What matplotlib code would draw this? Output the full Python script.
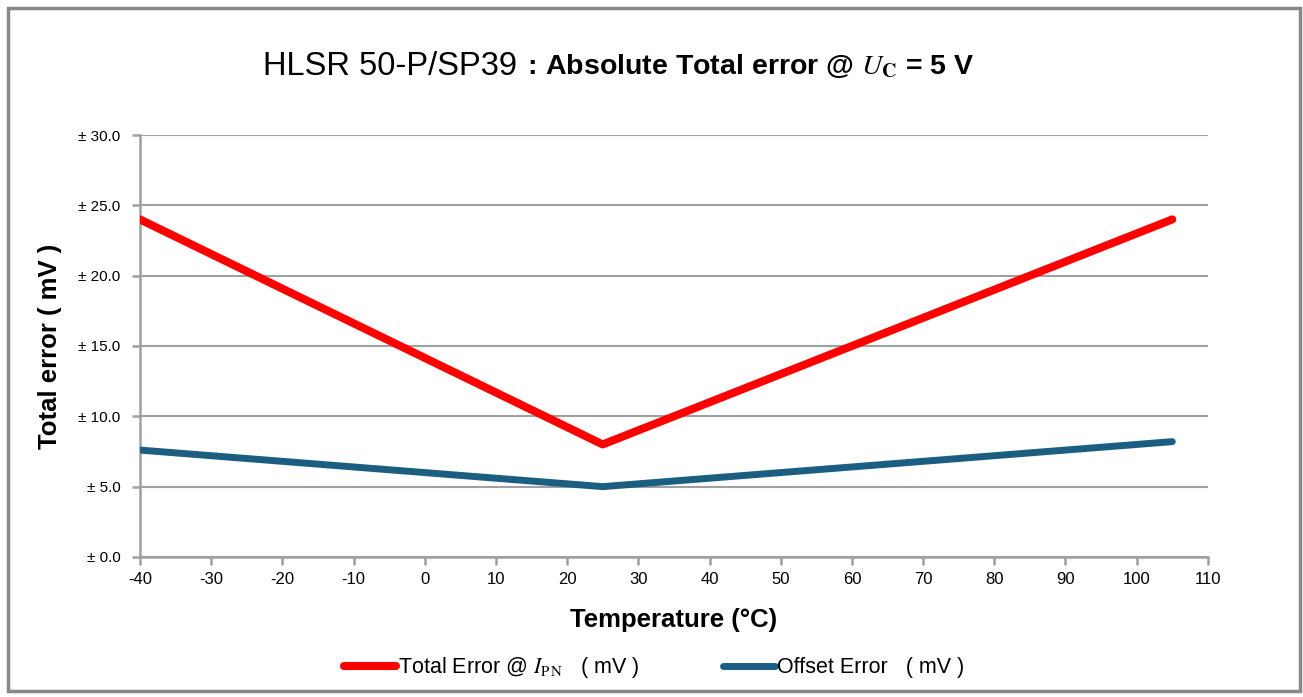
import matplotlib.pyplot as plt
from matplotlib.patches import Rectangle

# data
temps = [-40, 25, 105]
total_error = [24.0, 8.0, 24.0]
offset_error = [7.6, 5.0, 8.2]

x_ticks = list(range(-40, 111, 10))
y_ticks = [0, 5, 10, 15, 20, 25, 30]
y_tick_labels = ['± %.1f' % v for v in y_ticks]

plt.rcParams['font.family'] = ['Liberation Sans', 'DejaVu Sans']
plt.rcParams['mathtext.fontset'] = 'stix'

fig = plt.figure(figsize=(13.03, 6.97), dpi=100)
ax = fig.add_axes([0.1074, 0.2009, 0.8196, 0.6054])

grid_col = '#a0a0a0'
red = '#ff0000'
blue = '#1b5e82'

ax.plot(temps, total_error, color=red, lw=5.8, solid_capstyle='round',
        label='Total Error @ $\\mathit{I}_{\\rm P\\,N}$   ( mV )', zorder=3)
ax.plot(temps, offset_error, color=blue, lw=5.0, solid_capstyle='round',
        label='Offset Error   ( mV )', zorder=3)

ax.set_xlim(-40, 110)
ax.set_ylim(0, 30)
ax.set_xticks(x_ticks)
ax.set_xticklabels([str(t) for t in x_ticks], fontsize=12)
ax.set_yticks(y_ticks)
ax.set_yticklabels(y_tick_labels, fontsize=11)
ax.yaxis.grid(True, color=grid_col, lw=1.5)
ax.set_axisbelow(True)
for s in ['top', 'right']:
    ax.spines[s].set_visible(False)
for s in ['left', 'bottom']:
    ax.spines[s].set_color(grid_col)
    ax.spines[s].set_linewidth(1.8)
ax.tick_params(axis='both', colors=grid_col, width=1.8, length=6, labelcolor='black')
ax.tick_params(axis='x', pad=5)
ax.tick_params(axis='y', pad=8)

ax.set_xlabel('Temperature (°C)', fontsize=18.5, fontweight='bold', labelpad=15)
ax.set_ylabel('Total error ( mV )', fontsize=18.5, fontweight='bold', labelpad=12)

# title, two parts with different weight
fig.text(0.397, 0.905, 'HLSR 50-P/SP39', fontsize=23.5, ha='right', va='center')
fig.text(0.399, 0.905, ' : Absolute Total error @ $\\mathit{U}_{\\mathbf{C}}$ = 5 V',
         fontsize=20.5, fontweight='bold', ha='left', va='center')

fig.legend(loc='center', bbox_to_anchor=(0.502, 0.042), ncol=2, frameon=False,
           fontsize=15.5, handlelength=2.4, handletextpad=0.1, columnspacing=3.9)

# figure frame
fig.patches.append(Rectangle((0.0065, 0.008), 0.991, 0.981, transform=fig.transFigure,
                             fill=False, edgecolor='#888888', lw=2.5))

fig.savefig('out.png', dpi=100)
